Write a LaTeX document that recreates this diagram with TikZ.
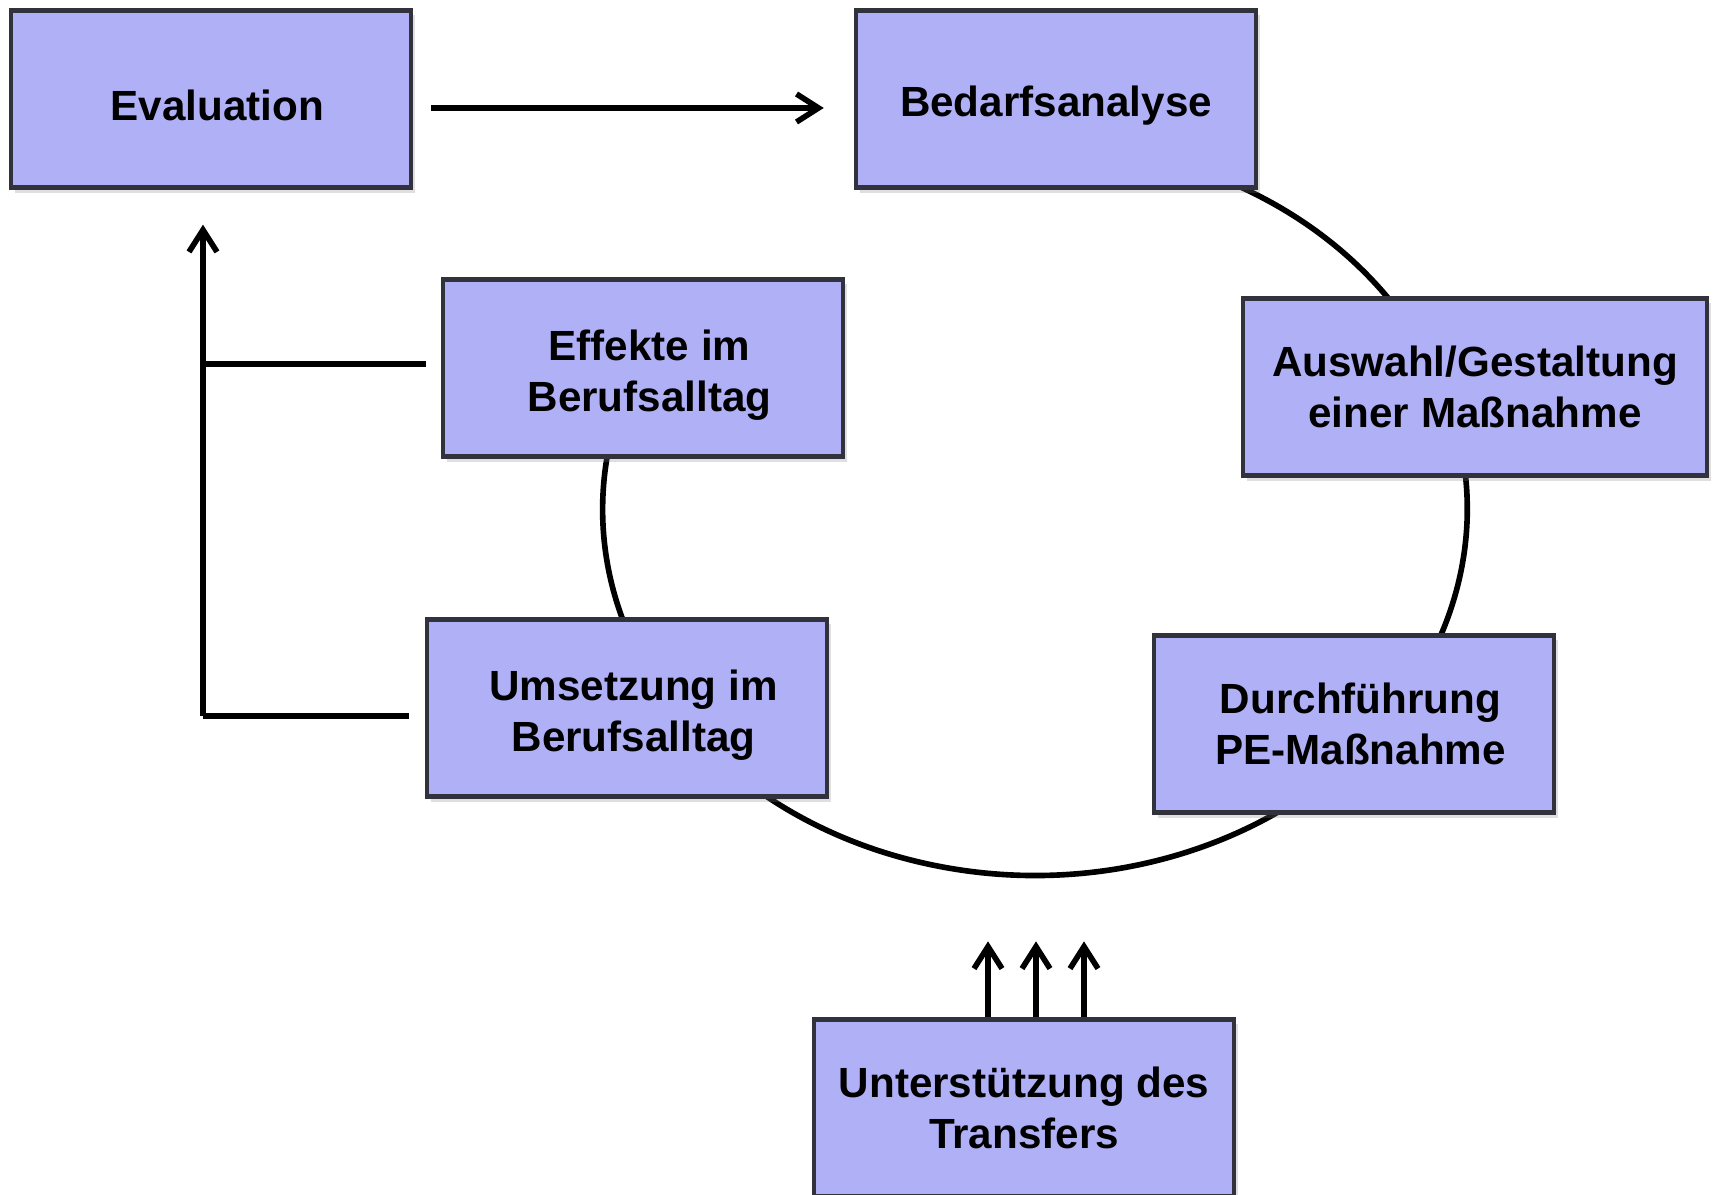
\documentclass[tikz,border=0pt]{standalone}
\usepackage{fontspec}
\setmainfont{Liberation Sans}
\usetikzlibrary{arrows.meta,shadows}
\definecolor{boxfill}{RGB}{176,176,246}
\definecolor{boxedge}{RGB}{50,50,60}
\newcommand\topstrut{\rule{0pt}{12.6pt}}
\newcommand\txtnudge{\hspace*{0.13cm}}
\begin{document}
\begin{tikzpicture}[x=0.01cm, y=-0.01cm,
        pebox/.style={rectangle, draw=boxedge, line width=1.2pt, fill=boxfill,
            minimum width=4cm, minimum height=1.77cm, align=center,
            font=\fontsize{12}{14.6}\selectfont\bfseries,
            drop shadow={opacity=0.25, shadow xshift=0.4mm, shadow yshift=-0.5mm}},
        conn/.style={line width=1.6pt, draw=black},
        arr/.style={conn, -{Straight Barb[length=2.2mm, width=2.8mm]}}]
        \useasboundingbox (0, 0) rectangle (1715, 1195);
        % cycle behind the boxes, open between Bedarfsanalyse and Effekte
        \coordinate (arcstart) at (1146.8, 155.5);
        \draw[conn] (arcstart) arc [start angle=75, end angle=-190, x radius=4.32cm, y radius=3.66cm];
        \node (eval) at (211, 99) [pebox] {\topstrut\txtnudge Evaluation};
        \node (bedarf) at (1056, 99) [pebox] {\topstrut Bedarfsanalyse};
        \node (auswahl) at (1475, 387) [pebox, minimum width=4.63cm] {Auswahl/Gestaltung\\einer Maßnahme};
        \node (durchf) at (1354, 724) [pebox] {\txtnudge Durchführung\\\txtnudge PE-Maßnahme};
        \node (effekte) at (643, 368) [pebox] {\topstrut\txtnudge Effekte im\\\txtnudge Berufsalltag};
        \node (umsetz) at (627, 708) [pebox] {\topstrut\txtnudge Umsetzung im\\\txtnudge Berufsalltag};
        \node (transfer) at (1024, 1108) [pebox, minimum width=4.2cm] {Unterstützung des\\Transfers};
        \draw[arr, shorten <=0.18cm, shorten >=0.3cm] ([shift={(0, 9)}]eval.east) -- ([shift={(0, 9)}]bedarf.west);
        % feedback to evaluation
        \coordinate (bend) at (203, 716);
        \draw[conn] ([shift={(-16, 8)}]umsetz.west) -- (bend);
        \draw[arr, shorten >=0.35cm] (bend) -- (bend |- eval.south);
        \draw[conn] ([shift={(-15, -4)}]effekte.west) -- ([shift={(0, -4)}]effekte.west -| bend);
        % transfer support
        \foreach \dx in {-36, 12, 60}
            \draw[arr] ([shift={(\dx, 0)}]transfer.north) -- ++(0, -76);
    \end{tikzpicture}
\end{document}
